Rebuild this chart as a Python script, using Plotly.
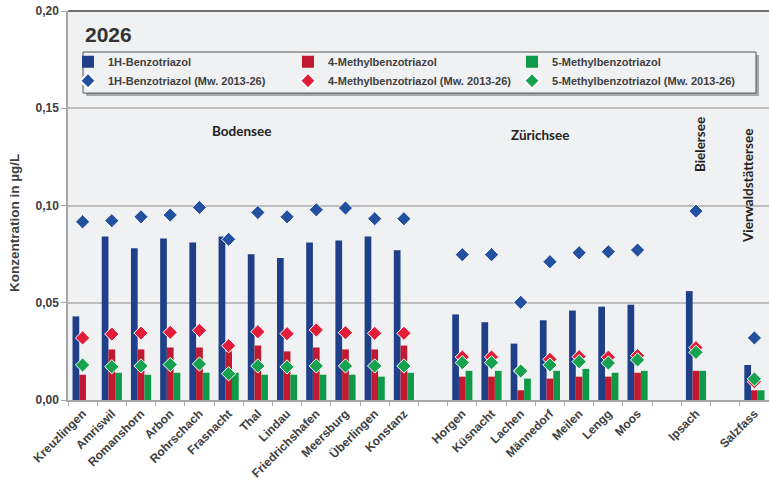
import plotly.graph_objects as go

# sampling sites (gap slots between lakes are added in the category order below)
bodensee = ["Kreuzlingen", "Amriswil", "Romanshorn", "Arbon", "Rohrschach", "Frasnacht",
            "Thal", "Lindau", "Friedrichshafen", "Meersburg", "Überlingen", "Konstanz"]
zuerichsee = ["Horgen", "Küsnacht", "Lachen", "Männedorf", "Meilen", "Lengg", "Moos"]
bielersee = ["Ipsach"]
vierwaldstaettersee = ["Salzfass"]
sites = bodensee + zuerichsee + bielersee + vierwaldstaettersee

# 2026 values in µg/L
bt_1h = [0.043, 0.084, 0.078, 0.083, 0.081, 0.084, 0.075, 0.073, 0.081, 0.082, 0.084, 0.077,
         0.044, 0.040, 0.029, 0.041, 0.046, 0.048, 0.049,
         0.056,
         0.018]
mbt_4 = [0.013, 0.026, 0.026, 0.027, 0.027, 0.025, 0.028, 0.025, 0.027, 0.026, 0.026, 0.028,
         0.012, 0.012, 0.005, 0.011, 0.012, 0.012, 0.014,
         0.015,
         0.005]
mbt_5 = [0.0, 0.014, 0.013, 0.014, 0.014, 0.014, 0.013, 0.013, 0.013, 0.013, 0.012, 0.014,
         0.015, 0.015, 0.011, 0.015, 0.016, 0.014, 0.015,
         0.015,
         0.005]

# mean values 2013-26
bt_1h_mw = [0.0916, 0.0922, 0.0942, 0.0951, 0.0990, 0.0826, 0.0964, 0.0942, 0.0978, 0.0987, 0.0932, 0.0932,
            0.0747, 0.0747, 0.0502, 0.0711, 0.0757, 0.0762, 0.0771,
            0.0971,
            0.0319]
mbt_4_mw = [0.0319, 0.0339, 0.0344, 0.0348, 0.0358, 0.0279, 0.0351, 0.0341, 0.0360, 0.0346, 0.0343, 0.0343,
            0.0221, 0.0221, 0.0150, 0.0209, 0.0223, 0.0220, 0.0228,
            0.0269,
            0.0094]
mbt_5_mw = [0.0180, 0.0171, 0.0175, 0.0182, 0.0185, 0.0135, 0.0175, 0.0170, 0.0175, 0.0175, 0.0175, 0.0175,
            0.0192, 0.0192, 0.0149, 0.0180, 0.0197, 0.0190, 0.0206,
            0.0245,
            0.0108]

# empty slots separate the lakes
category_order = bodensee + [" "] + zuerichsee + ["  "] + bielersee + ["   "] + vierwaldstaettersee

blue, red, green = "#1F4089", "#C1192F", "#0E9A48"
blue_d, red_d, green_d = "#2450A0", "#E11D3A", "#16A24E"
grey_txt = "#404040"
bg = "#F0F1F3"

fig = go.Figure()

# one legend per column (bar on top, mean value below)
for name, vals, col, lg in [("1H-Benzotriazol", bt_1h, blue, "legend"),
                            ("4-Methylbenzotriazol", mbt_4, red, "legend2"),
                            ("5-Methylbenzotriazol", mbt_5, green, "legend3")]:
    fig.add_trace(go.Bar(x=sites, y=vals, name=name, legend=lg,
                         marker=dict(color=col, line=dict(width=0))))

for name, vals, col, lg in [("1H-Benzotriazol (Mw. 2013-26)", bt_1h_mw, blue_d, "legend"),
                            ("4-Methylbenzotriazol (Mw. 2013-26)", mbt_4_mw, red_d, "legend2"),
                            ("5-Methylbenzotriazol (Mw. 2013-26)", mbt_5_mw, green_d, "legend3")]:
    fig.add_trace(go.Scatter(x=sites, y=vals, name=name, mode="markers", legend=lg,
                             marker=dict(symbol="diamond", size=11, color=col,
                                         line=dict(color="white", width=1))))

lake_font = dict(family="Lato", size=13.5, color="#222222", weight="bold")
legend_style = dict(orientation="v", y=0.907, xanchor="left", yanchor="top",
                    bgcolor="rgba(0,0,0,0)", borderwidth=0, traceorder="normal",
                    font=dict(size=11, color=grey_txt, weight="bold"),
                    itemsizing="constant", tracegroupgap=0)

fig.update_layout(
    width=769, height=486,
    margin=dict(l=68, r=0, t=11, b=86),
    paper_bgcolor="white",
    plot_bgcolor=bg,
    barmode="group",
    bargap=0.31,
    bargroupgap=0,
    separators=",.",
    font=dict(family="Arial, Liberation Sans, sans-serif", color=grey_txt),
    legend=dict(x=0.0, **legend_style),
    legend2=dict(x=0.3138, **legend_style),
    legend3=dict(x=0.6334, **legend_style),
    xaxis=dict(type="category", categoryorder="array", categoryarray=category_order,
               range=[-0.5, len(category_order) - 0.5], automargin=False,
               tickson="boundaries", ticks="outside", ticklen=4, tickcolor="#A6A6A6",
               tickangle=-45, tickfont=dict(size=12, color=grey_txt, weight="bold"),
               showgrid=False, showline=True, linecolor="#A6A6A6", linewidth=2),
    yaxis=dict(range=[0, 0.2], dtick=0.05, tickformat=".2f", automargin=False,
               ticklabeloverflow="allow",
               ticks="outside", ticklen=5, tickcolor="#A6A6A6",
               tickfont=dict(size=12, color=grey_txt, weight="bold"),
               showgrid=True, gridcolor="#BDBDBD", gridwidth=1.5,
               showline=True, linecolor="#A6A6A6", linewidth=1.5, zeroline=False),
    shapes=[
        dict(type="line", xref="paper", yref="paper", x0=0, x1=1, y0=1, y1=1,
             line=dict(color="#404040", width=1.5)),
        # legend frame with drop shadow
        dict(type="rect", xref="paper", yref="paper", x0=0.0257, x1=0.9857, y0=0.7815, y1=0.8869,
             fillcolor="rgba(0,0,0,0.3)", line=dict(width=0), layer="below"),
        dict(type="rect", xref="paper", yref="paper", x0=0.0214, x1=0.9815, y0=0.789, y1=0.8946,
             fillcolor=bg, line=dict(color="#555555", width=1), layer="below"),
    ],
    annotations=[
        dict(text="2026", xref="paper", yref="paper", x=0.021, y=0.975, xanchor="left", yanchor="top",
             showarrow=False, font=dict(size=21, color="#333333", weight="bold")),
        dict(text="Konzentration in µg/L", xref="paper", yref="paper", x=-0.077, y=0.455,
             xanchor="center", yanchor="middle",
             textangle=-90, showarrow=False, font=dict(size=13.5, color=grey_txt, weight="bold")),
        dict(text="Bodensee", xref="paper", yref="paper", x=0.247, y=0.692,
             xanchor="center", yanchor="middle", showarrow=False, font=lake_font),
        dict(text="Zürichsee", xref="paper", yref="paper", x=0.673, y=0.681,
             xanchor="center", yanchor="middle", showarrow=False, font=lake_font),
        dict(text="Bielersee", xref="paper", yref="paper", x=0.902, y=0.656, textangle=-90,
             xanchor="center", yanchor="middle", showarrow=False, font=lake_font),
        dict(text="Vierwaldstättersee", xref="paper", yref="paper", x=0.970, y=0.550, textangle=-90,
             xanchor="center", yanchor="middle", showarrow=False, font=lake_font),
    ],
)

# drop the default 8px page margin so the figure fills the window exactly
fig.write_html("out.html", config={"displayModeBar": False},
               post_script="document.body.style.margin='0';")
